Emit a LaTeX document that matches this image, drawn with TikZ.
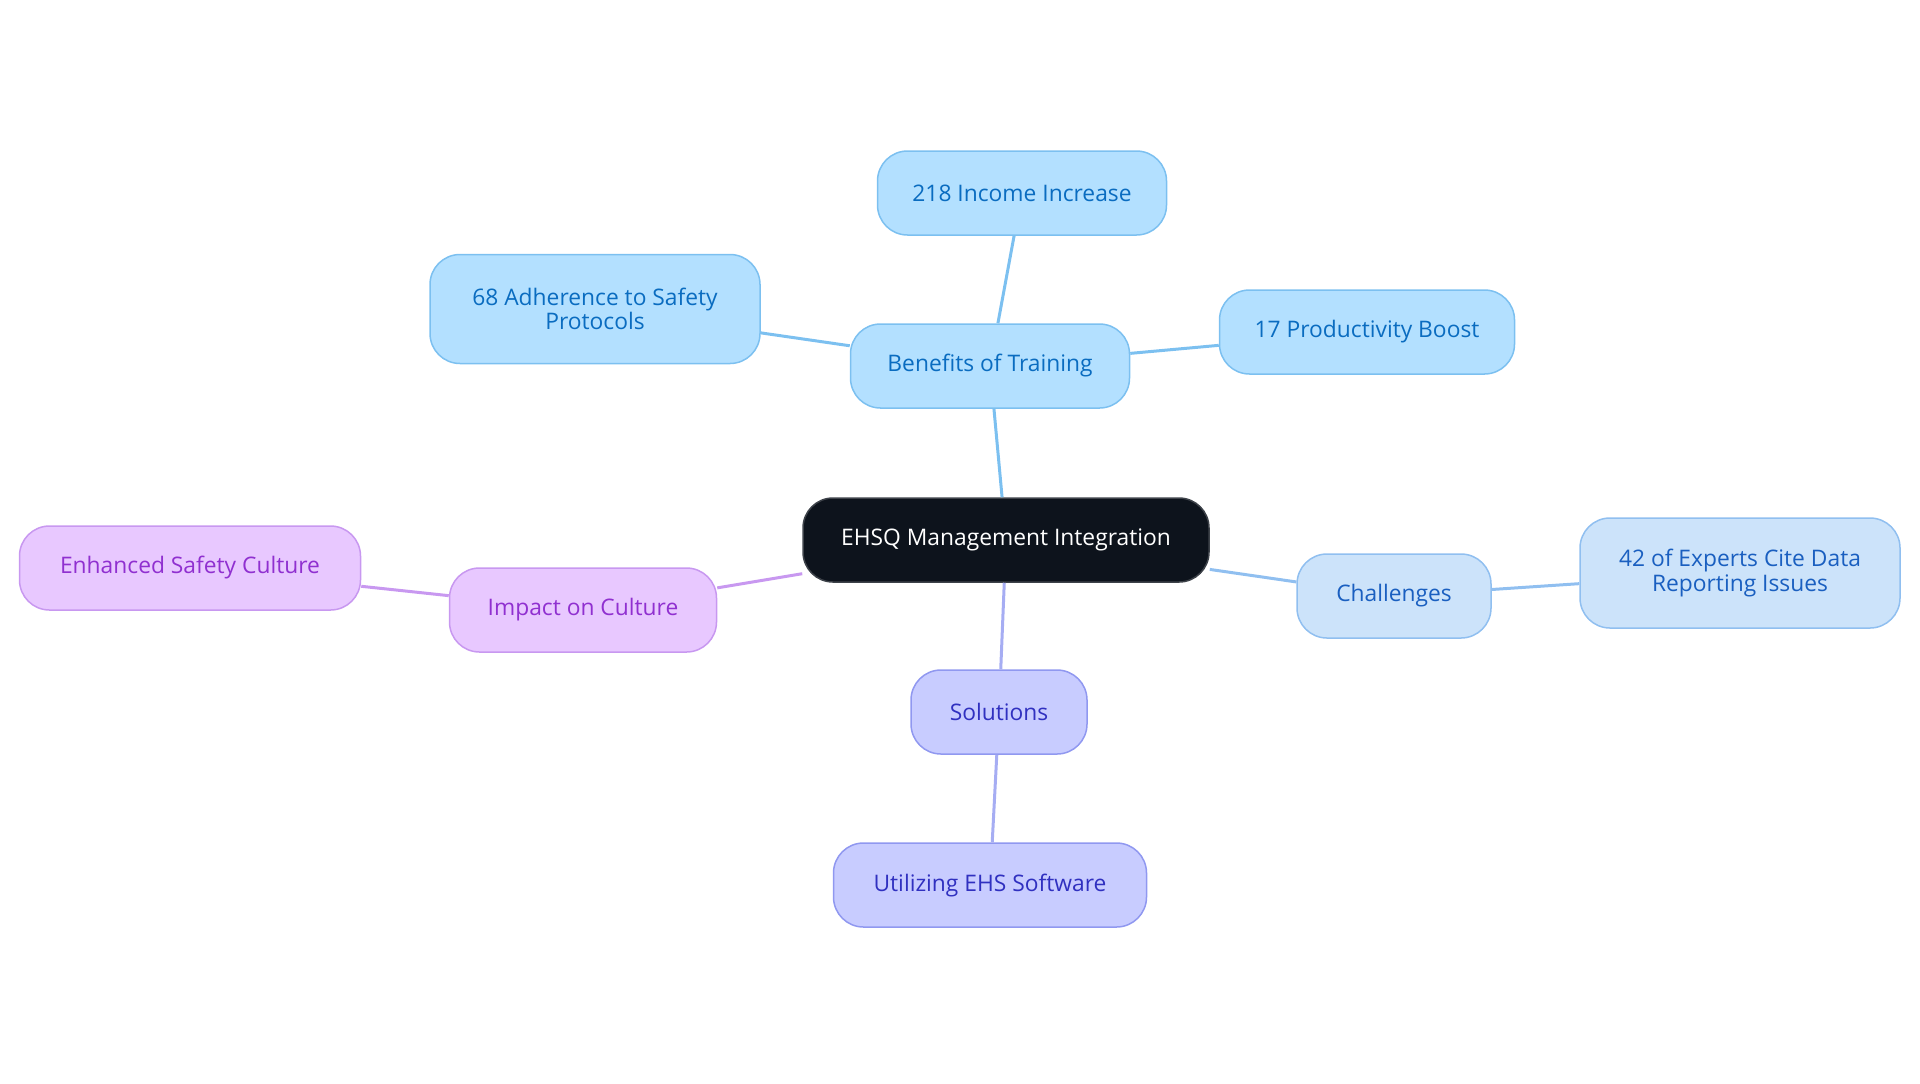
\documentclass[tikz,border=0pt]{standalone}
\usepackage{fontspec}
\setmainfont{Open Sans}
\usepackage{tikz}
\definecolor{rootfill}{HTML}{0D131C}
\definecolor{benfill}{HTML}{B3E0FF}
\definecolor{benline}{HTML}{7CC0F0}
\definecolor{bentext}{HTML}{0A6CC0}
\definecolor{chafill}{HTML}{CCE3FA}
\definecolor{chaline}{HTML}{90BFF0}
\definecolor{chatext}{HTML}{1A5FC0}
\definecolor{solfill}{HTML}{C8CCFF}
\definecolor{solline}{HTML}{9098F0}
\definecolor{soltext}{HTML}{3030C0}
\definecolor{impfill}{HTML}{E8C8FF}
\definecolor{impline}{HTML}{C898F0}
\definecolor{imptext}{HTML}{9030D0}
\tikzstyle{topic}=[rounded corners=15pt, minimum height=42pt, inner xsep=10pt, align=center, font=\fontsize{11.4}{12.3}\selectfont, line width=0.75pt]
\tikzstyle{root}=[topic, fill=rootfill, draw=rootfill!80!white, text=white]
\tikzstyle{benefit}=[topic, fill=benfill, draw=benline, text=bentext]
\tikzstyle{challenge}=[topic, fill=chafill, draw=chaline, text=chatext]
\tikzstyle{solution}=[topic, fill=solfill, draw=solline, text=soltext]
\tikzstyle{impact}=[topic, fill=impfill, draw=impline, text=imptext]
\tikzstyle{link}=[line width=1.5pt]
\begin{document}
\begin{tikzpicture}[x=0.5pt, y=-0.5pt]
		\useasboundingbox (0,0) rectangle (1920,1083);
		\begin{scope}
			\node (ehsq) at (1006, 540)[root, minimum width=203pt] {EHSQ Management Integration};
			\node (benefits) at (990, 366)[benefit, minimum width=139.5pt] {Benefits of Training};
			\node (income) at (1022, 193)[benefit, minimum width=144.5pt] {218 Income Increase};
			\node (adherence) at (595, 309)[benefit, minimum width=165pt, minimum height=54.5pt] {68 Adherence to Safety\\Protocols};
			\node (productivity) at (1367, 332)[benefit, minimum width=147.5pt] {17 Productivity Boost};
			\node (challenges) at (1394, 596)[challenge, minimum width=97pt] {Challenges};
			\node (experts) at (1740, 573)[challenge, minimum width=160pt, minimum height=55pt] {42 of Experts Cite Data\\Reporting Issues};
			\node (solutions) at (999, 712)[solution, minimum width=88pt] {Solutions};
			\node (software) at (990, 885)[solution, minimum width=156.5pt] {Utilizing EHS Software};
			\node (impact) at (583, 610)[impact, minimum width=133.5pt] {Impact on Culture};
			\node (culture) at (190, 568)[impact, minimum width=170.5pt] {Enhanced Safety Culture};
		\end{scope}
		\begin{scope}
			\path [link, draw=benline] (ehsq) edge (benefits);
			\path [link, draw=benline] (benefits) edge (income);
			\path [link, draw=benline] (benefits) edge (adherence);
			\path [link, draw=benline] (benefits) edge (productivity);
			\path [link, draw=chaline] (ehsq) edge (challenges);
			\path [link, draw=chaline] (challenges) edge (experts);
			\path [link, draw=solline!80!white] (ehsq) edge (solutions);
			\path [link, draw=solline!80!white] (solutions) edge (software);
			\path [link, draw=impline] (ehsq) edge (impact);
			\path [link, draw=impline] (impact) edge (culture);
		\end{scope}
\end{tikzpicture}
\end{document}
